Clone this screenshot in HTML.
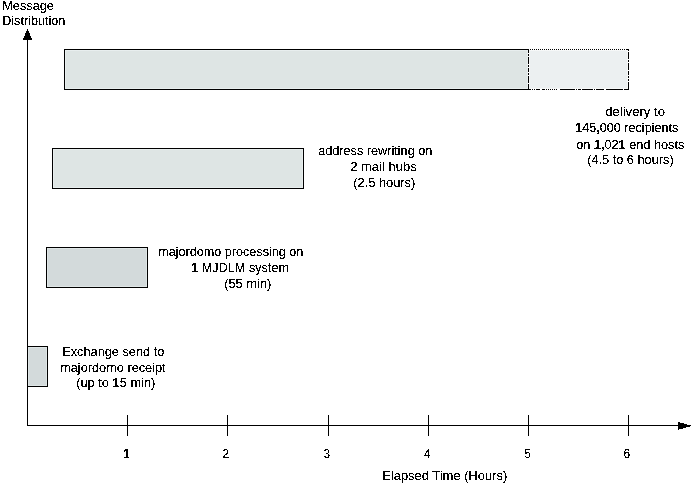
<!DOCTYPE html>
<html><head><meta charset="utf-8"><style>
html,body{margin:0;padding:0;background:#fff;width:692px;height:483px;overflow:hidden}
svg{display:block}
text{font-family:"Liberation Sans",sans-serif;font-size:12px;fill:#000}
</style></head><body>
<svg width="692" height="483" viewBox="0 0 692 483">
<g shape-rendering="crispEdges">
<rect x="27" y="39" width="1" height="387" fill="#000"/>
<rect x="27" y="425" width="653" height="1" fill="#000"/>
<polygon points="27.5,28.5 22.8,40 32.2,40" fill="#000"/>
<polygon points="678,422.1 691,425.4 691,426.2 678,429.8" fill="#000"/>
<rect x="127" y="415" width="1" height="21" fill="#000"/>
<rect x="227" y="415" width="1" height="21" fill="#000"/>
<rect x="328" y="415" width="1" height="21" fill="#000"/>
<rect x="428" y="415" width="1" height="21" fill="#000"/>
<rect x="528" y="415" width="1" height="21" fill="#000"/>
<rect x="628" y="415" width="1" height="21" fill="#000"/>
<rect x="46" y="247" width="102" height="41" fill="#000"/>
<rect x="47" y="248" width="100" height="39" fill="#dfe6e6"/>
<rect x="48" y="249" width="98" height="37" fill="#d3dadb"/>
<rect x="27" y="346" width="21" height="41" fill="#000"/>
<rect x="28" y="347" width="19" height="39" fill="#dfe6e6"/>
<rect x="29" y="348" width="17" height="37" fill="#d3dadb"/>
<rect x="52" y="148" width="252" height="41" fill="#000"/>
<rect x="53" y="149" width="250" height="39" fill="#e8eeee"/>
<rect x="54" y="150" width="248" height="37" fill="#dee5e4"/>
<rect x="65" y="50" width="463" height="39" fill="#e8eeee"/>
<rect x="66" y="51" width="461" height="37" fill="#dee5e4"/>
<rect x="529" y="50" width="99" height="39" fill="#f6f8f8"/>
<rect x="530" y="51" width="97" height="37" fill="#ecf0f1"/>
<rect x="64" y="49" width="465" height="1" fill="#000"/>
<rect x="64" y="49" width="1" height="41" fill="#000"/>
<rect x="64" y="89" width="467" height="1" fill="#000"/>
<rect x="530" y="49" width="1" height="1" fill="#000"/>
<rect x="532" y="49" width="1" height="1" fill="#000"/>
<rect x="534" y="49" width="1" height="1" fill="#000"/>
<rect x="536" y="49" width="1" height="1" fill="#000"/>
<rect x="538" y="49" width="1" height="1" fill="#000"/>
<rect x="540" y="49" width="1" height="1" fill="#000"/>
<rect x="542" y="49" width="1" height="1" fill="#000"/>
<rect x="544" y="49" width="1" height="1" fill="#000"/>
<rect x="546" y="49" width="1" height="1" fill="#000"/>
<rect x="548" y="49" width="1" height="1" fill="#000"/>
<rect x="550" y="49" width="1" height="1" fill="#000"/>
<rect x="552" y="49" width="1" height="1" fill="#000"/>
<rect x="554" y="49" width="1" height="1" fill="#000"/>
<rect x="556" y="49" width="1" height="1" fill="#000"/>
<rect x="558" y="49" width="1" height="1" fill="#000"/>
<rect x="560" y="49" width="1" height="1" fill="#000"/>
<rect x="562" y="49" width="1" height="1" fill="#000"/>
<rect x="564" y="49" width="1" height="1" fill="#000"/>
<rect x="566" y="49" width="1" height="1" fill="#000"/>
<rect x="568" y="49" width="1" height="1" fill="#000"/>
<rect x="570" y="49" width="1" height="1" fill="#000"/>
<rect x="572" y="49" width="1" height="1" fill="#000"/>
<rect x="574" y="49" width="1" height="1" fill="#000"/>
<rect x="576" y="49" width="1" height="1" fill="#000"/>
<rect x="578" y="49" width="1" height="1" fill="#000"/>
<rect x="580" y="49" width="1" height="1" fill="#000"/>
<rect x="582" y="49" width="1" height="1" fill="#000"/>
<rect x="584" y="49" width="1" height="1" fill="#000"/>
<rect x="586" y="49" width="1" height="1" fill="#000"/>
<rect x="588" y="49" width="1" height="1" fill="#000"/>
<rect x="590" y="49" width="1" height="1" fill="#000"/>
<rect x="592" y="49" width="1" height="1" fill="#000"/>
<rect x="594" y="49" width="1" height="1" fill="#000"/>
<rect x="596" y="49" width="1" height="1" fill="#000"/>
<rect x="598" y="49" width="1" height="1" fill="#000"/>
<rect x="600" y="49" width="1" height="1" fill="#000"/>
<rect x="602" y="49" width="1" height="1" fill="#000"/>
<rect x="604" y="49" width="1" height="1" fill="#000"/>
<rect x="606" y="49" width="1" height="1" fill="#000"/>
<rect x="608" y="49" width="1" height="1" fill="#000"/>
<rect x="610" y="49" width="1" height="1" fill="#000"/>
<rect x="612" y="49" width="1" height="1" fill="#000"/>
<rect x="614" y="49" width="1" height="1" fill="#000"/>
<rect x="616" y="49" width="1" height="1" fill="#000"/>
<rect x="618" y="49" width="1" height="1" fill="#000"/>
<rect x="620" y="49" width="1" height="1" fill="#000"/>
<rect x="622" y="49" width="1" height="1" fill="#000"/>
<rect x="624" y="49" width="1" height="1" fill="#000"/>
<rect x="626" y="49" width="1" height="1" fill="#000"/>
<rect x="628" y="49" width="1" height="2" fill="#000"/>
<rect x="627" y="49" width="2" height="1" fill="#000"/>
<rect x="628" y="52" width="1" height="7" fill="#000"/>
<rect x="628" y="60" width="1" height="2" fill="#000"/>
<rect x="628" y="63" width="1" height="7" fill="#000"/>
<rect x="628" y="71" width="1" height="4" fill="#000"/>
<rect x="628" y="76" width="1" height="2" fill="#000"/>
<rect x="628" y="79" width="1" height="2" fill="#000"/>
<rect x="628" y="82" width="1" height="8" fill="#000"/>
<rect x="528" y="49" width="1" height="4" fill="#000"/>
<rect x="528" y="54" width="1" height="2" fill="#000"/>
<rect x="528" y="57" width="1" height="7" fill="#000"/>
<rect x="528" y="65" width="1" height="2" fill="#000"/>
<rect x="528" y="68" width="1" height="4" fill="#000"/>
<rect x="528" y="73" width="1" height="2" fill="#000"/>
<rect x="528" y="76" width="1" height="7" fill="#000"/>
<rect x="528" y="84" width="1" height="5" fill="#000"/>
<rect x="532" y="89" width="1" height="1" fill="#000"/>
<rect x="534" y="89" width="1" height="1" fill="#000"/>
<rect x="536" y="89" width="4" height="1" fill="#000"/>
<rect x="542" y="89" width="3" height="1" fill="#000"/>
<rect x="546" y="89" width="1" height="1" fill="#000"/>
<rect x="548" y="89" width="1" height="1" fill="#000"/>
<rect x="550" y="89" width="1" height="1" fill="#000"/>
<rect x="552" y="89" width="1" height="1" fill="#000"/>
<rect x="554" y="89" width="1" height="1" fill="#000"/>
<rect x="556" y="89" width="1" height="1" fill="#000"/>
<rect x="560" y="89" width="15" height="1" fill="#000"/>
<rect x="576" y="89" width="1" height="1" fill="#000"/>
<rect x="578" y="89" width="3" height="1" fill="#000"/>
<rect x="582" y="89" width="11" height="1" fill="#000"/>
<rect x="594" y="89" width="1" height="1" fill="#000"/>
<rect x="596" y="89" width="8" height="1" fill="#000"/>
<rect x="606" y="89" width="17" height="1" fill="#000"/>
<rect x="624" y="89" width="5" height="1" fill="#000"/>
</g>
<defs><filter id="th" x="0" y="0" width="100%" height="100%" filterUnits="userSpaceOnUse"><feComponentTransfer><feFuncR type="discrete" tableValues="0"/><feFuncG type="discrete" tableValues="0"/><feFuncB type="discrete" tableValues="0"/><feFuncA type="discrete" tableValues="0 0 0 0 0 0 0 0 0 0 0 0 0 0 0 0 0 0 0 0 0 0 0 0 0 0 0 0 0 0 0 0 0 0 0 0 0 0 0 0 1 1 1 1 1 1 1 1 1 1 1 1 1 1 1 1 1 1 1 1 1 1 1 1 1 1 1 1 1 1 1 1 1 1 1 1 1 1 1 1 1 1 1 1 1 1 1 1 1 1 1 1 1 1 1 1 1 1 1 1"/></feComponentTransfer></filter></defs>
<g filter="url(#th)">
<text x="2.20" y="10" textLength="51.77" lengthAdjust="spacingAndGlyphs">Message</text>
<text x="2.20" y="25" textLength="63.11" lengthAdjust="spacingAndGlyphs">Distribution</text>
<text x="605.20" y="116" textLength="59.81" lengthAdjust="spacingAndGlyphs">delivery to</text>
<text x="575.20" y="132" textLength="103.13" lengthAdjust="spacingAndGlyphs"><tspan font-weight="bold">1</tspan>45<tspan font-weight="bold">,</tspan>000 recipients</text>
<text x="576.20" y="149" textLength="108.16" lengthAdjust="spacingAndGlyphs">on <tspan font-weight="bold">1</tspan><tspan font-weight="bold">,</tspan>02<tspan font-weight="bold">1</tspan> end hosts</text>
<text x="587.20" y="164" textLength="86.46" lengthAdjust="spacingAndGlyphs">(4.5 to 6 hours)</text>
<text x="318.20" y="155" textLength="114.13" lengthAdjust="spacingAndGlyphs">address rewriting on</text>
<text x="350.20" y="171" textLength="66.49" lengthAdjust="spacingAndGlyphs">2 mail hubs</text>
<text x="353.20" y="187" textLength="62.11" lengthAdjust="spacingAndGlyphs">(2.5 hours)</text>
<text x="158.20" y="256" textLength="145.13" lengthAdjust="spacingAndGlyphs">majordomo processing on</text>
<text x="191.20" y="272" textLength="97.78" lengthAdjust="spacingAndGlyphs"><tspan font-weight="bold">1</tspan> MJDLM system</text>
<text x="224.20" y="288" textLength="47.12" lengthAdjust="spacingAndGlyphs">(55 min)</text>
<text x="62.20" y="356" textLength="102.15" lengthAdjust="spacingAndGlyphs">Exchange send to</text>
<text x="60.20" y="372" textLength="105.41" lengthAdjust="spacingAndGlyphs">majordomo receipt</text>
<text x="76.20" y="387" textLength="79.15" lengthAdjust="spacingAndGlyphs">(up to <tspan font-weight="bold">1</tspan>5 min)</text>
<text x="382.20" y="480" textLength="125.14" lengthAdjust="spacingAndGlyphs">Elapsed Time (Hours)</text>
<text x="122.95" y="458"><tspan font-weight="bold">1</tspan></text>
<text x="222.45" y="458">2</text>
<text x="323.45" y="458">3</text>
<text x="423.95" y="458">4</text>
<text x="524.20" y="458">5</text>
<text x="623.45" y="458">6</text>
</g>
</svg>
</body></html>
